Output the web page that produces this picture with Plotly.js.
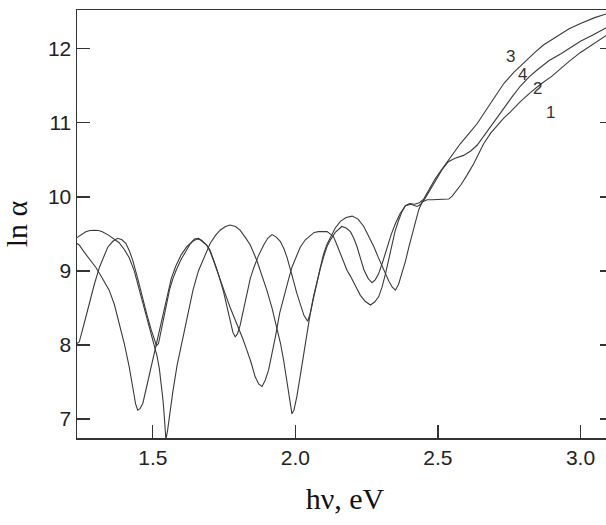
<!DOCTYPE html>
<html>
<head>
<meta charset="utf-8">
<script src="https://cdn.plot.ly/plotly-3.0.1.min.js"></script>
<style>
html,body{margin:0;padding:0;overflow:hidden;background:#fff;}
#chart{width:620px;height:525px;}
</style>
</head>
<body>
<div id="chart"></div>
<script>
// Curve ending lowest at high energy (label 1 region)
const energy1 = [1.234,1.25,1.265,1.28,1.294,1.31,1.323,1.346,1.365,1.382,1.40,1.417,1.435,1.452,1.467,1.482,1.495,1.505,1.515,1.523,1.530,1.536,1.541,1.546,1.552,1.559,1.57,1.585,1.605,1.625,1.641,1.66,1.687,1.701,1.72,1.736,1.755,1.771,1.79,1.806,1.825,1.842,1.865,1.882,1.90,1.918,1.935,1.948,1.959,1.968,1.976,1.983,1.988,1.995,2.005,2.017,2.029,2.04,2.052,2.064,2.076,2.087,2.099,2.111,2.123,2.14,2.158,2.178,2.199,2.22,2.24,2.258,2.275,2.29,2.304,2.316,2.328,2.34,2.351,2.362,2.374,2.386,2.398,2.41,2.421,2.433,2.445,2.462,2.48,2.50,2.52,2.538,2.55,2.565,2.58,2.60,2.626,2.645,2.661,2.685,2.708,2.73,2.755,2.79,2.825,2.86,2.90,2.93,2.96,3.0,3.04,3.08,3.114];
const lnAlpha1 = [9.45,9.49,9.53,9.545,9.55,9.545,9.53,9.48,9.43,9.38,9.29,9.18,9.00,8.76,8.55,8.33,8.15,8.02,7.85,7.68,7.48,7.25,7.0,6.72,6.85,7.07,7.36,7.72,8.10,8.45,8.74,9.0,9.23,9.37,9.48,9.55,9.60,9.62,9.60,9.55,9.45,9.35,9.14,8.95,8.74,8.50,8.24,8.02,7.79,7.55,7.34,7.15,7.07,7.12,7.30,7.58,7.88,8.15,8.42,8.66,8.87,9.06,9.23,9.36,9.46,9.58,9.67,9.72,9.74,9.70,9.60,9.47,9.33,9.19,9.06,8.95,8.86,8.78,8.74,8.82,8.96,9.13,9.32,9.50,9.68,9.83,9.93,9.96,9.96,9.96,9.96,9.97,10.01,10.08,10.16,10.28,10.45,10.60,10.72,10.86,10.97,11.06,11.15,11.29,11.41,11.52,11.63,11.73,11.83,11.95,12.05,12.15,12.24];

// Short-period curve, middle at high energy
const energy2 = [1.234,1.242,1.26,1.277,1.295,1.313,1.328,1.342,1.36,1.377,1.392,1.406,1.418,1.43,1.447,1.465,1.48,1.494,1.505,1.513,1.52,1.527,1.535,1.547,1.559,1.57,1.582,1.60,1.617,1.632,1.646,1.66,1.672,1.689,1.701,1.713,1.724,1.736,1.748,1.76,1.771,1.781,1.789,1.797,1.806,1.818,1.83,1.842,1.853,1.87,1.889,1.903,1.918,1.932,1.947,1.96,1.971,1.983,1.994,2.005,2.017,2.03,2.043,2.052,2.064,2.076,2.088,2.10,2.111,2.122,2.14,2.163,2.178,2.193,2.205,2.216,2.228,2.24,2.255,2.269,2.28,2.292,2.307,2.322,2.336,2.351,2.368,2.386,2.405,2.427,2.44,2.455,2.474,2.50,2.515,2.535,2.56,2.59,2.615,2.638,2.66,2.684,2.71,2.731,2.76,2.79,2.82,2.85,2.89,2.93,2.97,3.0,3.05,3.114];
const lnAlpha2 = [8.02,8.04,8.30,8.56,8.82,9.05,9.20,9.32,9.40,9.44,9.42,9.37,9.27,9.14,8.90,8.61,8.40,8.21,8.07,7.99,8.02,8.15,8.34,8.55,8.75,8.89,9.01,9.16,9.28,9.37,9.43,9.44,9.41,9.35,9.28,9.16,9.03,8.88,8.72,8.52,8.33,8.17,8.11,8.15,8.26,8.48,8.72,8.90,9.03,9.20,9.35,9.44,9.49,9.46,9.40,9.30,9.18,9.03,8.86,8.70,8.55,8.40,8.32,8.42,8.64,8.85,9.04,9.20,9.33,9.41,9.52,9.60,9.58,9.53,9.44,9.33,9.18,9.02,8.90,8.84,8.88,8.96,9.13,9.32,9.49,9.64,9.78,9.88,9.90,9.87,9.90,9.98,10.10,10.27,10.37,10.47,10.52,10.56,10.62,10.70,10.82,10.94,11.08,11.19,11.35,11.50,11.62,11.72,11.84,11.93,12.03,12.10,12.20,12.33];

// Curve ending highest at high energy (label 3 region)
const energy3 = [1.234,1.242,1.26,1.28,1.30,1.32,1.347,1.365,1.382,1.40,1.417,1.43,1.44,1.447,1.455,1.465,1.482,1.50,1.518,1.535,1.55,1.565,1.58,1.60,1.62,1.64,1.655,1.666,1.689,1.70,1.713,1.725,1.736,1.755,1.771,1.785,1.80,1.815,1.83,1.845,1.859,1.872,1.883,1.894,1.906,1.918,1.93,1.945,1.959,1.975,1.988,2.003,2.017,2.035,2.052,2.066,2.081,2.096,2.111,2.122,2.134,2.146,2.158,2.17,2.181,2.193,2.205,2.216,2.228,2.245,2.263,2.278,2.292,2.304,2.316,2.328,2.339,2.35,2.362,2.374,2.386,2.40,2.418,2.435,2.45,2.462,2.474,2.49,2.51,2.532,2.555,2.579,2.61,2.638,2.665,2.684,2.71,2.731,2.766,2.80,2.84,2.87,2.918,2.96,3.0,3.05,3.09,3.114];
const lnAlpha3 = [9.37,9.35,9.25,9.15,9.05,8.92,8.74,8.55,8.29,8.02,7.71,7.45,7.20,7.12,7.14,7.21,7.50,7.80,8.12,8.43,8.68,8.90,9.06,9.22,9.33,9.40,9.43,9.42,9.35,9.27,9.14,9.00,8.87,8.68,8.51,8.38,8.24,8.09,7.93,7.76,7.57,7.47,7.44,7.52,7.66,7.88,8.11,8.43,8.65,8.87,9.05,9.20,9.32,9.42,9.48,9.52,9.53,9.535,9.53,9.50,9.46,9.35,9.23,9.12,9.01,8.93,8.85,8.76,8.67,8.59,8.54,8.58,8.65,8.78,8.96,9.16,9.37,9.54,9.68,9.80,9.88,9.91,9.90,9.92,9.97,10.05,10.13,10.24,10.35,10.47,10.60,10.72,10.86,10.99,11.15,11.26,11.41,11.53,11.68,11.81,11.95,12.05,12.17,12.27,12.34,12.42,12.47,12.50];

// Curve labels
const labelText = ['3','4','2','1'];
const labelX = [2.755,2.796,2.848,2.895];
const labelY = [11.89,11.65,11.46,11.145];

// Axis ticks
const xTicks = [1.5,2.0,2.5,3.0];
const xTickText = ['1.5','2.0','2.5','3.0'];
const yTicks = [7,8,9,10,11,12];

const lineStyle = {color:'#3a3a3a', width:1.1};
const traces = [
  {x:energy1, y:lnAlpha1, mode:'lines', line:lineStyle, name:'1'},
  {x:energy2, y:lnAlpha2, mode:'lines', line:lineStyle, name:'2'},
  {x:energy3, y:lnAlpha3, mode:'lines', line:lineStyle, name:'3'}
];

const annotations = labelText.map((t,i)=>({
  x:labelX[i], y:labelY[i], text:t, showarrow:false, xref:'x', yref:'y',
  font:{family:'Liberation Sans, Arial, sans-serif', size:17, color:'#333'}
}));

const tickFont = {family:'Liberation Sans, Arial, sans-serif', size:21, color:'#222'};
const titleFont = {family:'Liberation Serif, Times New Roman, serif', size:30, color:'#111'};

const layout = {
  width:620, height:525,
  margin:{l:77, r:7, t:10, b:87},
  paper_bgcolor:'#fff', plot_bgcolor:'#fff',
  showlegend:false,
  xaxis:{
    range:[1.2342,3.114], tickvals:xTicks, ticktext:xTickText,
    ticks:'inside', ticklen:13, tickwidth:1.3, tickcolor:'#333',
    showline:true, linecolor:'#333', linewidth:1.5, mirror:true,
    showgrid:false, zeroline:false, tickfont:tickFont,
    title:{text:'hν, eV', font:titleFont, standoff:20}
  },
  yaxis:{
    range:[6.744,12.523], tickvals:yTicks,
    ticks:'inside', ticklen:13, tickwidth:1.3, tickcolor:'#333',
    showline:true, linecolor:'#333', linewidth:1.5, mirror:'ticks',
    showgrid:false, zeroline:false, tickfont:tickFont,
    title:{text:'ln α', font:titleFont, standoff:14}
  },
  annotations:annotations
};

Plotly.newPlot('chart', traces, layout, {displayModeBar:false, staticPlot:true});
</script>
</body>
</html>
